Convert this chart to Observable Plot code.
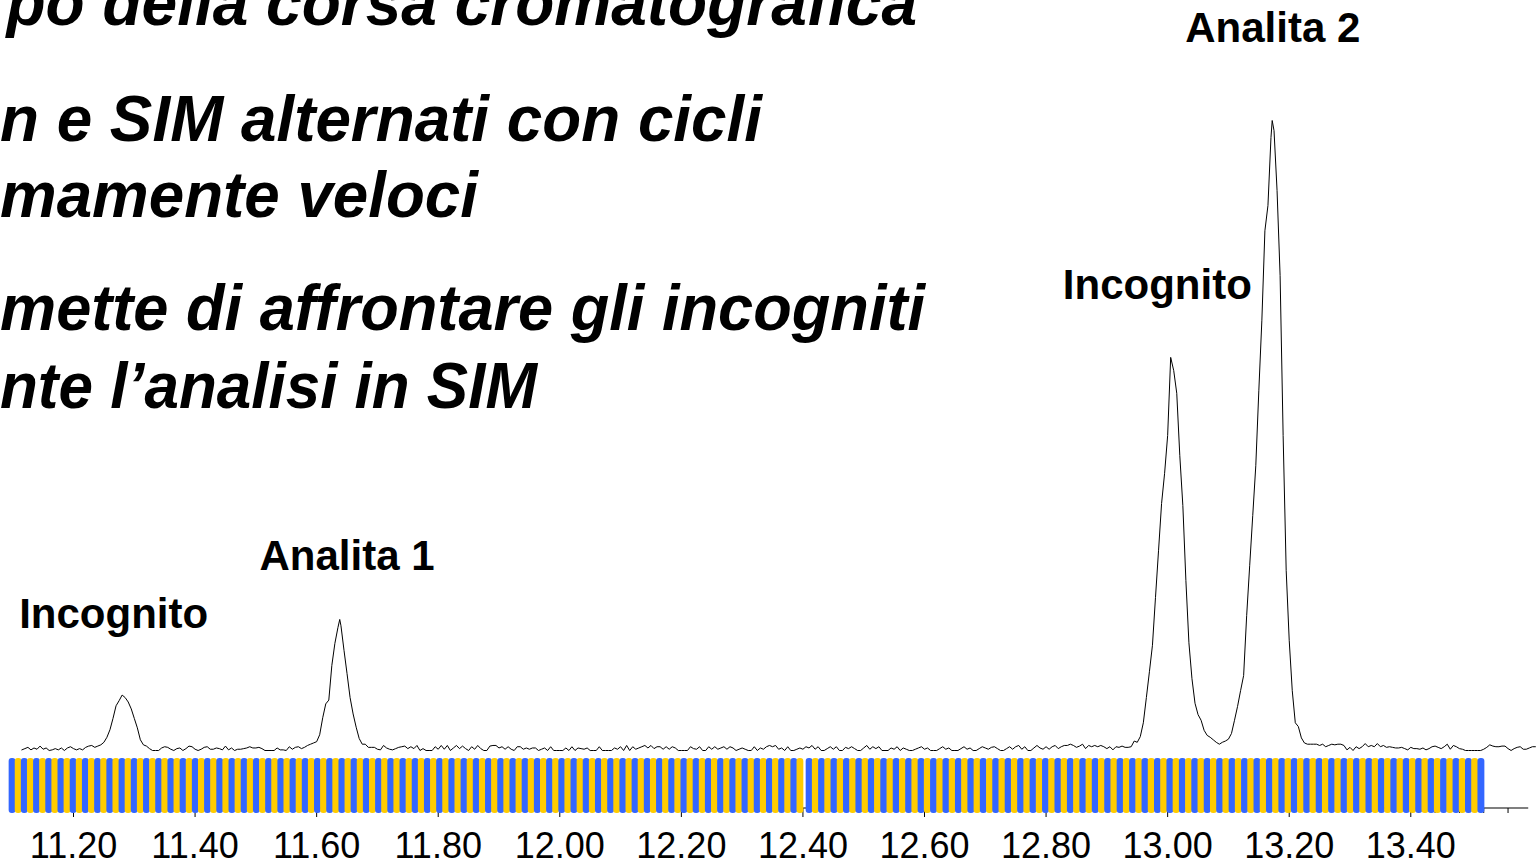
<!DOCTYPE html>
<html>
<head>
<meta charset="utf-8">
<script src="https://cdn.jsdelivr.net/npm/d3@7"></script>
<script src="https://cdn.jsdelivr.net/npm/@observablehq/plot@0.6"></script>
<style>
  html, body { margin: 0; padding: 0; background: #fff; }
  #wrap { position: relative; width: 1538px; height: 865px; overflow: hidden; }
  #slide { position: absolute; left: 0; top: 0; pointer-events: none; }
</style>
</head>
<body>
<div id="wrap">
  <div id="chart"></div>
  <svg id="slide" width="1538" height="865" xmlns="http://www.w3.org/2000/svg"></svg>
</div>
<script>
// ---- Slide text (cropped bullet lines) ----
const slideLines = [
  "po della corsa cromatografica",
  "n e SIM alternati con cicli",
  "mamente veloci",
  "mette di affrontare gli incogniti",
  "nte l’analisi in SIM"
];

// ---- Chromatogram: retention time (min) and relative abundance ----
const rt = [
11.115,11.12,11.125,11.13,11.135,11.14,11.145,11.15,11.155,11.16,11.165,11.17,11.175,11.18,11.185,11.19,11.195,11.2,11.205,11.21,
11.215,11.22,11.225,11.23,11.235,11.24,11.245,11.25,11.255,11.26,11.265,11.27,11.275,11.28,11.285,11.29,11.295,11.3,11.305,11.31,
11.315,11.32,11.325,11.33,11.335,11.34,11.345,11.35,11.355,11.36,11.365,11.37,11.375,11.38,11.385,11.39,11.395,11.4,11.405,11.41,
11.415,11.42,11.425,11.43,11.435,11.44,11.445,11.45,11.455,11.46,11.465,11.47,11.475,11.48,11.485,11.49,11.495,11.5,11.505,11.51,
11.515,11.52,11.525,11.53,11.535,11.54,11.545,11.55,11.555,11.56,11.565,11.57,11.575,11.58,11.585,11.59,11.595,11.6,11.605,11.61,
11.615,11.62,11.625,11.63,11.635,11.638,11.64,11.645,11.65,11.655,11.66,11.665,11.67,11.675,11.68,11.685,11.69,11.695,11.7,11.705,11.71,
11.715,11.72,11.725,11.73,11.735,11.74,11.745,11.75,11.755,11.76,11.765,11.77,11.775,11.78,11.785,11.79,11.795,11.8,11.805,11.81,
11.815,11.82,11.825,11.83,11.835,11.84,11.845,11.85,11.855,11.86,11.865,11.87,11.875,11.88,11.885,11.89,11.895,11.9,11.905,11.91,
11.915,11.92,11.925,11.93,11.935,11.94,11.945,11.95,11.955,11.96,11.965,11.97,11.975,11.98,11.985,11.99,11.995,12.0,12.005,12.01,
12.015,12.02,12.025,12.03,12.035,12.04,12.045,12.05,12.055,12.06,12.065,12.07,12.075,12.08,12.085,12.09,12.095,12.1,12.105,12.11,
12.115,12.12,12.125,12.13,12.135,12.14,12.145,12.15,12.155,12.16,12.165,12.17,12.175,12.18,12.185,12.19,12.195,12.2,12.205,12.21,
12.215,12.22,12.225,12.23,12.235,12.24,12.245,12.25,12.255,12.26,12.265,12.27,12.275,12.28,12.285,12.29,12.295,12.3,12.305,12.31,
12.315,12.32,12.325,12.33,12.335,12.34,12.345,12.35,12.355,12.36,12.365,12.37,12.375,12.38,12.385,12.39,12.395,12.4,12.405,12.41,
12.415,12.42,12.425,12.43,12.435,12.44,12.445,12.45,12.455,12.46,12.465,12.47,12.475,12.48,12.485,12.49,12.495,12.5,12.505,12.51,
12.515,12.52,12.525,12.53,12.535,12.54,12.545,12.55,12.555,12.56,12.565,12.57,12.575,12.58,12.585,12.59,12.595,12.6,12.605,12.61,
12.615,12.62,12.625,12.63,12.635,12.64,12.645,12.65,12.655,12.66,12.665,12.67,12.675,12.68,12.685,12.69,12.695,12.7,12.705,12.71,
12.715,12.72,12.725,12.73,12.735,12.74,12.745,12.75,12.755,12.76,12.765,12.77,12.775,12.78,12.785,12.79,12.795,12.8,12.805,12.81,
12.815,12.82,12.825,12.83,12.835,12.84,12.845,12.85,12.855,12.86,12.865,12.87,12.875,12.88,12.885,12.89,12.895,12.9,12.905,12.91,
12.915,12.92,12.925,12.93,12.935,12.94,12.945,12.95,12.955,12.96,12.965,12.97,12.975,12.98,12.985,12.99,12.995,13.0,13.005,13.01,
13.015,13.02,13.025,13.03,13.035,13.04,13.045,13.05,13.055,13.06,13.065,13.07,13.075,13.08,13.085,13.09,13.095,13.1,13.105,13.11,
13.115,13.12,13.125,13.13,13.135,13.14,13.145,13.15,13.155,13.16,13.165,13.17,13.172,13.175,13.18,13.185,13.19,13.195,13.2,13.205,13.21,
13.215,13.22,13.225,13.23,13.235,13.24,13.245,13.25,13.255,13.26,13.265,13.27,13.275,13.28,13.285,13.29,13.295,13.3,13.305,13.31,
13.315,13.32,13.325,13.33,13.335,13.34,13.345,13.35,13.355,13.36,13.365,13.37,13.375,13.38,13.385,13.39,13.395,13.4,13.405,13.41,
13.415,13.42,13.425,13.43,13.435,13.44,13.445,13.45,13.455,13.46,13.465,13.47,13.475,13.48,13.485,13.49,13.495,13.5,13.505,13.51,
13.515,13.52,13.525,13.53,13.535,13.54,13.545,13.55,13.555,13.56,13.565,13.57,13.575,13.58,13.585,13.59,13.595,13.6,13.605
];
const tic = [
0.1,0.3,0.5,0.1,0.4,0.2,0.7,0.2,0.4,0.0,0.1,0.3,0.1,0.4,0.0,0.4,0.6,0.3,0.1,0.3,
0.1,0.5,0.7,0.8,0.5,0.7,0.9,1.3,2.1,3.3,5.1,7.1,7.9,8.8,8.4,7.7,6.6,5.1,3.6,1.7,
0.9,0.7,0.3,0.0,0.0,0.0,0.4,0.6,0.5,0.2,0.0,0.3,0.4,0.0,0.3,0.7,0.6,0.2,0.0,0.2,
0.5,0.6,0.2,0.2,0.4,0.3,0.1,0.7,0.1,0.4,0.0,0.2,0.2,0.3,0.4,0.6,0.4,0.4,0.5,0.3,
0.0,0.0,0.0,0.0,0.4,0.1,0.1,0.0,0.6,0.2,0.5,0.6,0.3,0.5,0.8,1.0,1.2,1.4,2.5,5.2,
7.4,8.0,13.5,17.0,19.5,20.8,19.8,15.9,12.2,8.4,5.8,3.7,1.9,1.0,1.0,0.5,0.5,0.5,0.2,0.1,0.8,
0.4,0.2,0.1,0.3,0.5,0.6,0.7,0.3,0.6,0.3,0.8,0.0,0.3,0.0,0.0,0.0,0.6,0.2,0.8,0.2,
0.8,0.0,0.4,0.8,0.3,0.7,0.3,0.0,0.6,0.2,0.8,0.3,0.0,0.0,0.7,0.8,0.8,0.4,0.6,0.2,
0.6,0.2,0.0,0.6,0.6,0.2,0.4,0.2,0.4,0.4,0.0,0.2,0.4,0.0,0.6,0.0,0.0,0.0,0.0,0.4,
0.0,0.6,0.0,0.4,0.3,0.2,0.4,0.0,0.0,0.0,0.6,0.0,0.0,0.0,0.0,0.4,0.2,0.6,0.0,0.8,
0.0,0.6,0.2,0.4,0.6,0.8,0.4,0.8,0.3,0.6,0.6,0.2,0.6,0.2,0.6,0.4,0.0,0.0,0.0,0.0,
0.6,0.3,0.2,0.6,0.0,0.0,0.6,0.2,0.6,0.2,0.4,0.6,0.2,0.6,0.4,0.0,0.2,0.4,0.2,0.0,
0.0,0.6,0.0,0.4,0.2,0.6,0.8,0.6,0.8,0.2,0.4,0.0,0.6,0.0,0.0,0.2,0.4,0.2,0.6,0.4,
0.8,0.2,0.6,0.0,0.0,0.3,0.6,0.2,0.6,0.0,0.0,0.5,0.3,0.6,0.3,0.0,0.0,0.4,0.8,0.2,
0.6,0.3,0.6,0.0,0.0,0.0,0.4,0.2,0.6,0.0,0.4,0.2,0.0,0.0,0.2,0.4,0.6,0.2,0.4,0.0,
0.0,0.0,0.3,0.6,0.2,0.4,0.0,0.0,0.0,0.3,0.6,0.2,0.4,0.0,0.0,0.3,0.6,0.4,0.2,0.5,
0.6,0.3,0.0,0.0,0.3,0.6,0.2,0.6,0.8,0.2,0.6,0.0,0.0,0.4,0.8,0.4,0.2,0.6,0.2,0.6,
0.8,0.3,0.6,0.8,0.8,1.0,0.8,0.5,0.7,1.0,0.3,0.8,0.6,0.8,0.6,0.8,0.6,0.3,0.6,0.1,
0.6,0.5,0.7,0.5,0.5,0.6,1.5,1.3,2.2,4.4,8.4,12.5,16.7,24.3,31.7,39.2,44.0,50.0,62.4,60.3,
56.7,46.8,38.9,27.0,17.1,11.4,7.5,5.7,4.8,3.2,2.4,2.1,1.7,1.3,1.0,1.3,1.5,1.8,2.7,4.8,
7.0,9.5,11.9,21.4,29.4,37.3,45.2,57.1,68.3,82.5,86.5,97.3,100,98.4,88.9,75.4,50.0,28.6,17.5,9.5,4.4,
3.8,2.0,1.2,1.0,1.0,1.0,1.0,0.8,1.0,0.6,0.8,1.0,0.9,1.0,1.0,0.8,0.1,0.5,0.0,0.6,
0.3,0.6,1.1,0.6,0.8,0.6,1.1,0.6,0.8,0.5,0.6,0.5,0.4,0.4,0.5,0.3,0.1,0.5,0.3,0.3,
0.2,0.4,0.1,0.3,0.6,0.7,0.5,0.3,0.6,1.0,0.2,0.8,0.6,0.3,0.2,0.0,0.0,0.0,0.0,0.0,
0.0,0.2,0.5,0.9,0.7,0.6,0.6,0.7,0.7,0.3,0.0,0.3,0.5,0.6,0.2,0.2,0.4,0.6,0.6
];

// ---- Peak annotations ----
const peakNames  = ["Incognito", "Analita 1", "Incognito", "Analita 2"];
const labelTime  = [11.266, 11.650, 12.983, 13.173];
const labelLevel = [19.5, 28.6, 71.7, 112.4];

// ---- X axis ----
const tickValues = [11.2, 11.4, 11.6, 11.8, 12.0, 12.2, 12.4, 12.6, 12.8, 13.0, 13.2, 13.4];
const tickLabels = ["11.20","11.40","11.60","11.80","12.00","12.20","12.40","12.60","12.80","13.00","13.20","13.40"];
const minorTicks = [13.44, 13.48, 13.52, 13.56];
const axisSpan   = [11.10, 13.594];

// ---- Acquisition program: alternating Full Scan / SIM segments ----
const segStart  = [11.0947, 12.4059];
const segEnd    = [12.4009, 13.5213];
const segScans  = [130, 109];
const scanModes = ["Full Scan", "SIM"];

if (rt.length !== tic.length) throw new Error("length mismatch " + rt.length + " vs " + tic.length);

const scans = [];
segStart.forEach((s, j) => {
  const w = (segEnd[j] - s) / segScans[j];
  for (let k = 0; k < segScans[j]; k++) {
    scans.push({x1: s + k * w, x2: s + (k + 1) * w, mode: scanModes[k % 2]});
  }
});

const font = "'Liberation Sans', Arial, Helvetica, sans-serif";

const chart = Plot.plot({
  width: 1538,
  height: 865,
  marginLeft: 0,
  marginRight: 0,
  marginTop: 0,
  marginBottom: 57,
  style: {fontFamily: font, fontSize: "36px", color: "black", background: "white", overflow: "visible"},
  x: {domain: [11.0799, 13.6101]},
  y: {domain: [0, 100], range: [750, 120], axis: null},
  color: {domain: scanModes, range: ["#3366FF", "#FFCC00"]},
  marks: [
    Plot.line(rt, {x: rt, y: tic, stroke: "black", strokeWidth: 1}),
    Plot.rect([axisSpan], {x1: d => d[0], x2: d => d[1], fill: "black", insetTop: 807.5, insetBottom: -0.5}),
    Plot.axisX({
      ticks: tickValues,
      tickFormat: d => tickLabels[tickValues.indexOf(d)],
      tickSize: 9,
      tickPadding: 14.5,
      fontSize: 36,
      label: null,
      stroke: "black",
      fill: "black"
    }),
    Plot.ruleX(minorTicks, {stroke: "black", insetTop: 808, insetBottom: -5}),
    Plot.rect(scans, {x1: "x1", x2: "x2", fill: "mode", insetTop: 758, insetBottom: -5, insetLeft: -0.35, insetRight: -0.35, rx: 3}),
    Plot.text(peakNames, {
      x: labelTime, y: labelLevel, text: d => d,
      fontSize: 42, fontWeight: "bold", fill: "black",
      textAnchor: "middle", lineAnchor: "bottom"
    })
  ]
});
document.getElementById("chart").appendChild(chart);

// Slide bullet text overlay (right-aligned ends as in the reference)
const slide = d3.select("#slide");
const slideRight = [917, 762, 478, 925, 537];
const slideBase  = [25, 141, 217, 330, 408];
slide.selectAll("text").data(slideLines).join("text")
  .attr("x", (d, i) => slideRight[i])
  .attr("y", (d, i) => slideBase[i])
  .attr("text-anchor", "end")
  .attr("font-family", font)
  .attr("font-weight", "bold")
  .attr("font-style", "italic")
  .attr("font-size", 64)
  .attr("fill", "black")
  .text(d => d)
  .each(function () {
    // keep the right end where the reference has it and fit the line inside the page
    const b = this.getBBox();
    if (b.x < 0) {
      const len = this.getComputedTextLength();
      d3.select(this)
        .attr("textLength", len + b.x)
        .attr("lengthAdjust", "spacingAndGlyphs");
    }
  });
</script>
</body>
</html>
